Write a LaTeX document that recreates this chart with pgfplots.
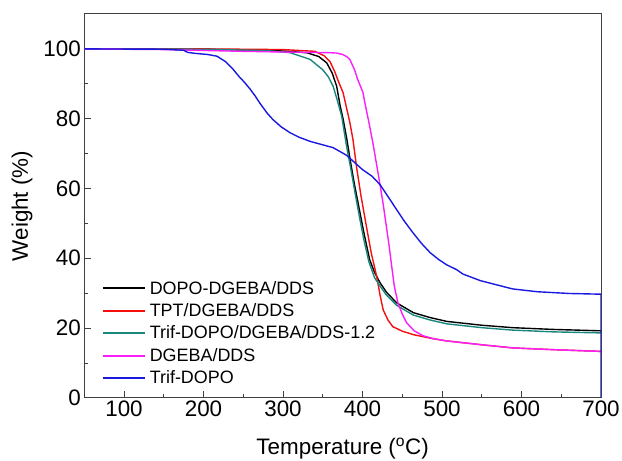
\documentclass[border=0pt]{standalone}
\usepackage{fontspec}
\setmainfont{Liberation Sans}
\usepackage{pgfplots}
\pgfplotsset{compat=1.18}
\definecolor{cteal}{RGB}{25,135,125}
\definecolor{cblue}{RGB}{25,25,225}
\definecolor{cred}{RGB}{245,15,15}
\definecolor{cmag}{RGB}{250,30,250}
\begin{document}
\begin{tikzpicture}
\begin{axis}[
 scale only axis, width=517bp, height=384bp,
 xmin=50, xmax=700, ymin=0, ymax=110,
 xtick={100,200,...,700}, ytick={0,20,...,100},
 minor x tick num=1, minor y tick num=1,
 tick align=inside, xtick pos=bottom, ytick pos=left,
 major tick length=7bp, minor tick length=4bp,
 axis line style={line width=1bp, black!75},
 every tick/.style={line width=0.8bp, black!75},
 /pgf/number format/assume math mode=true,
 ticklabel style={font=\fontsize{22.5}{27}\selectfont},
 label style={font=\fontsize{22.5}{27}\selectfont},
 xlabel={Temperature (\textsuperscript{o}C)},
 ylabel={Weight (\%)},
 xlabel style={yshift=-14bp},
 ylabel style={yshift=4bp},
 legend style={draw=none, fill=none, font=\fontsize{18}{22}\selectfont,
   at={(0.034,0.31)}, anchor=north west, inner sep=0pt,
   row sep=4bp, column sep=2bp},
 legend cell align=left,
 legend image code/.code={\draw[mark repeat=2,mark phase=2,#1,line width=1.8bp] plot coordinates {(0bp,0bp) (21bp,0bp) (42bp,0bp)};},
 every axis plot/.append style={line width=1.4bp},
]
\addplot[black] coordinates {(50,100) (100,100) (200,99.9) (250,99.7) (300,99.4) (330,98.9) (345,97.8) (355,96) (362,93) (367.5,89.3) (371.6,84) (375.5,80) (380,74.5) (385,67.5) (390,61) (396,54) (402,47) (409,39.6) (415,36) (422,33) (430,30.3) (443,27.2) (464,24.4) (485,23) (506,21.9) (550,20.8) (589,20.1) (640,19.6) (700,19.2)};
\addlegendentry{DOPO-DGEBA/DDS}
\addplot[cred] coordinates {(50,100) (200,100) (300,99.8) (340,99.3) (352,98) (359,96.4) (365,93.5) (370,90.5) (375.5,87.5) (380,83) (384,79) (388,74) (392.6,66) (398,58) (405,49) (411,41.5) (417.8,34.8) (422,29.5) (426,25.2) (432,22.3) (438,20.4) (450,19.1) (464,18.1) (485,17.1) (506,16.3) (550,15.2) (589,14.3) (640,13.8) (700,13.3)};
\addlegendentry{TPT/DGEBA/DDS}
\addplot[cteal] coordinates {(50,100) (200,99.9) (280,99.5) (309,98.9) (334,97) (350,94) (357,92) (363,89.3) (368,85.5) (373.8,80.7) (380,72) (385,66) (390,59.5) (396,52) (402,45) (408,39) (415,34.5) (422,32) (430,29.5) (443,26.5) (464,23.7) (485,22.3) (506,21.2) (550,20.1) (589,19.4) (640,18.9) (700,18.6)};
\addlegendentry{Trif-DOPO/DGEBA/DDS-1.2}
\addplot[cmag] coordinates {(50,100) (150,99.8) (250,99.3) (300,99.1) (360,98.9) (367.5,98.8) (375,98.4) (380,97.8) (384,97) (390,94) (394,91.2) (400.6,87.5) (403,84.5) (408,79) (413,73.1) (418,66.5) (422,61.1) (426,55.5) (430,49.1) (433.5,43.5) (436.7,37.7) (440,32) (444.6,27.2) (450,24) (455.5,21.5) (465,19.2) (476,17.8) (490,16.9) (506,16.3) (550,15.2) (589,14.3) (640,13.8) (700,13.3)};
\addlegendentry{DGEBA/DDS}
\addplot[cblue] coordinates {(50,100) (150,99.9) (175,99.6) (180,99) (190,98.7) (205,98.4) (217,97.9) (228,96.3) (237,94.2) (245,92) (252,90.3) (258.5,88.5) (265,86.5) (271,84.4) (280,81.6) (287.5,79.7) (298,77.6) (308.7,76) (320,74.7) (334,73.5) (350,72.5) (363,71.7) (380,69.5) (400,65.4) (412,63.5) (422,61.1) (432,57.7) (443,53.9) (453,50.5) (463.5,47.3) (474,44.3) (485,41.6) (496,39.6) (506,38.1) (518.6,36.7) (526,35.5) (548,33.6) (570,32.3) (589,31.2) (620,30.4) (660,29.9) (700,29.7) (700,0)};
\addlegendentry{Trif-DOPO}
\end{axis}
\pgfresetboundingbox
\path[use as bounding box] ([shift={(-84.3bp,-63bp)}]current axis.south west) rectangle ([shift={(21bp,14bp)}]current axis.north east);
\end{tikzpicture}
\end{document}
